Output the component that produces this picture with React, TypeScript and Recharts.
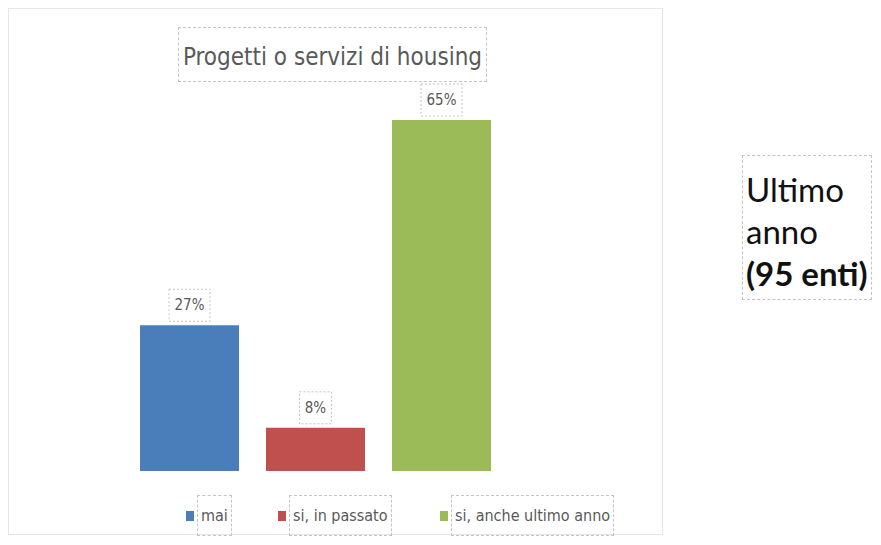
import { BarChart, Bar, XAxis, YAxis, LabelList } from 'recharts';

const TITLE = 'Progetti o servizi di housing';
const SERIES = ['mai', 'si, in passato', 'si, anche ultimo anno'];
const VALUES = [27, 8, 65];
const COLORS = ['#4a7ebb', '#c0504d', '#9bbb59'];
const SIDE_LINES = ['Ultimo', 'anno'];
const SIDE_BOLD = '(95 enti)';

const data = [
    SERIES.reduce((row: Record<string, number | string>, _s, i) => {
        row[`s${i}`] = VALUES[i];
        return row;
    }, { name: TITLE }),
];

const NARROW = '"DejaVu Sans Condensed", sans-serif';
const DASH = '1px dashed #c4c4c4';

function PctLabel(props: any) {
    const { x, y, width, value } = props;
    const cx = x + width / 2;
    const text = `${value}%`;
    const w = text.length * 9 + 14;
    return (
        <g>
            <rect x={cx - w / 2} y={y - 36} width={w} height={32} fill="none" stroke="#c4c4c4" strokeDasharray="2 2" />
            <text x={cx} y={y - 20} textAnchor="middle" dominantBaseline="central" fontSize={15} fill="#595959" fontFamily={NARROW}>
                {text}
            </text>
        </g>
    );
}

const LEGEND_LEFT = [177, 269, 431];

export default function App() {
    return (
        <div style={{ position: 'relative', width: 881, height: 529 }}>
            <div style={{ position: 'absolute', left: 0, top: 0, width: 653, height: 525, border: '1px solid #e6e6e6', background: '#fff' }}>
                <BarChart width={653} height={525} data={data} margin={{ top: 111, right: 61, left: 20, bottom: 63 }} barSize={99} barGap={27}>
                    <XAxis dataKey="name" hide />
                    <YAxis domain={[0, 65]} hide />
                    {SERIES.map((s, i) => (
                        <Bar key={s} dataKey={`s${i}`} name={s} fill={COLORS[i]} isAnimationActive={false}>
                            <LabelList dataKey={`s${i}`} content={(p: any) => <PctLabel {...p} />} />
                        </Bar>
                    ))}
                </BarChart>
                <div style={{
                    position: 'absolute', left: 169, top: 18, width: 309, height: 55, border: DASH, boxSizing: 'border-box',
                    display: 'flex', alignItems: 'center', justifyContent: 'center', whiteSpace: 'nowrap', paddingTop: 4,
                    fontFamily: NARROW, fontSize: 24, color: '#595959',
                }}>
                    {TITLE}
                </div>
                {SERIES.map((s, i) => (
                    <div key={s} style={{ position: 'absolute', left: LEGEND_LEFT[i], top: 486, display: 'flex', alignItems: 'center', fontFamily: NARROW, fontSize: 16, color: '#595959', whiteSpace: 'nowrap' }}>
                        <span style={{ width: 8, height: 10, background: COLORS[i], marginRight: 3 }} />
                        <span style={{ border: DASH, padding: '10px 3px' }}>{s}</span>
                    </div>
                ))}
            </div>
            <div style={{
                position: 'absolute', left: 734, top: 147, width: 130, height: 145, border: DASH, boxSizing: 'border-box',
                padding: '12px 0 0 3px', fontFamily: 'Lato, "Open Sans", sans-serif', fontSize: 33, lineHeight: '42px', color: '#111', whiteSpace: 'nowrap',
            }}>
                {SIDE_LINES.map((l) => <div key={l}>{l}</div>)}
                <div style={{ fontWeight: 700 }}>{SIDE_BOLD}</div>
            </div>
        </div>
    );
}
